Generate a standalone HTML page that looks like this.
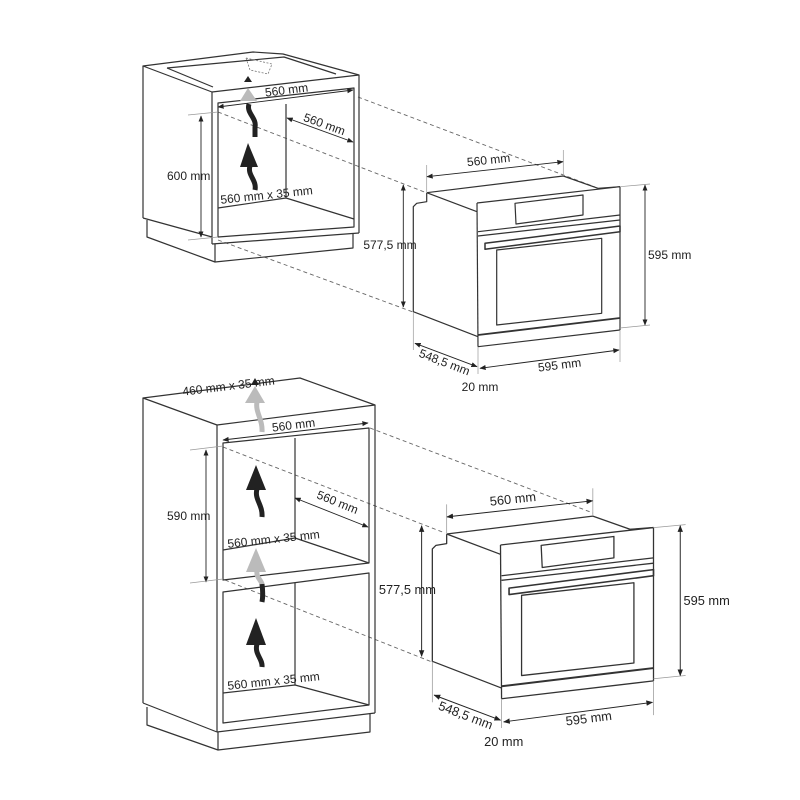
<!DOCTYPE html>
<html><head><meta charset="utf-8"><style>
html,body{margin:0;padding:0;background:#fff;}
svg{display:block;}
text{font-family:"Liberation Sans",sans-serif;font-size:12px;fill:#222;}
</style></head><body>
<svg width="800" height="800" viewBox="0 0 800 800" xmlns="http://www.w3.org/2000/svg">
<defs>
<marker id="a" viewBox="0 0 10 10" refX="9" refY="5" markerWidth="7" markerHeight="7" orient="auto-start-reverse"><path d="M0,1 L10,5 L0,9 z" fill="#222"/></marker>
</defs>

<g stroke="#666" stroke-width="0.9" stroke-dasharray="4,3" fill="none">
<line x1="358" y1="97" x2="595" y2="187"/>
<line x1="218" y1="112" x2="427" y2="193"/>
<line x1="218" y1="240" x2="413" y2="312"/>
<line x1="370" y1="428" x2="593" y2="513"/>
<line x1="223" y1="447" x2="445" y2="533"/>
<line x1="225" y1="580" x2="432" y2="662"/>
</g>

<g stroke="#333" stroke-width="1.2" fill="none" stroke-linejoin="round">
<polygon points="143,66 253,52 283,54 359,75 212,92" fill="#fff"/>
<polyline points="167,68 284,57 336,74"/>
<line x1="167" y1="68" x2="213" y2="87"/>
<line x1="143" y1="66" x2="143" y2="218"/>
<line x1="143" y1="218" x2="212" y2="237"/>
<line x1="212" y1="92" x2="212" y2="244"/>
<line x1="359" y1="75" x2="359" y2="233"/>
<line x1="212" y1="244" x2="359" y2="233"/>
<polyline points="147,220 147,237 215,262 353,248 353,233"/>
<line x1="215" y1="244" x2="215" y2="262"/>
<polygon points="218,103 354,88 354,227 218,237"/>
<line x1="286" y1="104" x2="286" y2="198"/>
<polyline points="218,208 286,198 354,219"/>
</g>
<g stroke="#777" stroke-width="0.8" stroke-dasharray="2,1.5" fill="none">
<polygon points="246,58 272,64 268,74 250,70"/>
</g>
<polygon points="248,76 244,82 252,82" fill="#222"/>
<polygon points="248,88 240,101 257,101" fill="#bbb"/>
<path d="M249,104 C246,113 257,118 255,127 L255,137" stroke="#222" stroke-width="5" fill="none"/>
<polygon points="248,143 240,167 258,167" fill="#222"/>
<path d="M250,166 C247,175 257,180 255,190" stroke="#222" stroke-width="5" fill="none"/>
<g stroke="#222" stroke-width="0.9" fill="none">
<line x1="218" y1="107" x2="353" y2="90" marker-start="url(#a)" marker-end="url(#a)"/>
<line x1="287" y1="118" x2="353" y2="142" marker-start="url(#a)" marker-end="url(#a)"/>
<line x1="201" y1="116" x2="201" y2="237" marker-start="url(#a)" marker-end="url(#a)"/>
</g>
<g stroke="#999" stroke-width="0.7"><line x1="188" y1="115" x2="218" y2="112"/><line x1="188" y1="240" x2="218" y2="237"/></g>
<text x="287" y="94" text-anchor="middle" transform="rotate(-7 287 94)">560 mm</text>
<text x="323" y="128" text-anchor="middle" transform="rotate(20 323 128)">560 mm</text>
<text x="167" y="180">600 mm</text>
<text x="267" y="199" text-anchor="middle" transform="rotate(-6 267 199)">560 mm x 35 mm</text>

<g stroke="#333" stroke-width="1.2" fill="none" stroke-linejoin="round">
<polygon points="143,398 300,378 375,405 217,425" fill="#fff"/>
<line x1="143" y1="398" x2="143" y2="703"/>
<line x1="143" y1="703" x2="217" y2="732"/>
<line x1="217" y1="425" x2="217" y2="732"/>
<line x1="375" y1="405" x2="375" y2="713"/>
<line x1="217" y1="732" x2="375" y2="713"/>
<polyline points="147,707 147,725 218,750 370,732 370,713"/>
<line x1="218" y1="732" x2="218" y2="750"/>
<polygon points="223,443 369,428 369,563 223,580"/>
<polygon points="223,592 369,573 369,705 223,723"/>
<line x1="295" y1="438" x2="295" y2="538"/>
<polyline points="223,550 295,538 369,563"/>
<line x1="295" y1="583" x2="295" y2="685"/>
<polyline points="223,693 295,685 369,705"/>
</g>
<polygon points="255,378 251,385 259,385" fill="#222"/>
<polygon points="255,386 245,403 265,403" fill="#bbb"/>
<path d="M257,402 C255,412 263,420 262,432" stroke="#bbb" stroke-width="5" fill="none"/>
<polygon points="256,465 246,490 266,490" fill="#222"/>
<path d="M257,489 C254,499 263,505 262,517" stroke="#222" stroke-width="5" fill="none"/>
<polygon points="256,548 246,572 266,572" fill="#bbb"/>
<path d="M257,571 C256,577 261,580 262,584" stroke="#bbb" stroke-width="5" fill="none"/>
<path d="M262,584 C263,592 263,597 262,602" stroke="#222" stroke-width="5" fill="none"/>
<polygon points="256,618 246,645 266,645" fill="#222"/>
<path d="M257,644 C254,654 263,659 262,667" stroke="#222" stroke-width="5" fill="none"/>
<g stroke="#222" stroke-width="0.9" fill="none">
<line x1="223" y1="440" x2="368" y2="423" marker-start="url(#a)" marker-end="url(#a)"/>
<line x1="295" y1="498" x2="368" y2="527" marker-start="url(#a)" marker-end="url(#a)"/>
<line x1="206" y1="450" x2="206" y2="582" marker-start="url(#a)" marker-end="url(#a)"/>
</g>
<g stroke="#999" stroke-width="0.7"><line x1="190" y1="450" x2="223" y2="446"/><line x1="190" y1="583" x2="223" y2="579"/></g>
<text x="294" y="429" text-anchor="middle" transform="rotate(-7 294 429)">560 mm</text>
<text x="336" y="506" text-anchor="middle" transform="rotate(22 336 506)">560 mm</text>
<text x="167" y="520">590 mm</text>
<text x="229" y="390" text-anchor="middle" transform="rotate(-7 229 390)">460 mm x 35 mm</text>
<text x="274" y="543" text-anchor="middle" transform="rotate(-6 274 543)">560 mm x 35 mm</text>
<text x="274" y="685" text-anchor="middle" transform="rotate(-6 274 685)">560 mm x 35 mm</text>

<g>
<g stroke="#333" stroke-width="1.2" fill="none" stroke-linejoin="round">
<polyline points="426.7,192.7 426.7,201.7 416.7,203.3 413.3,206.7 413.3,311.7 478,336.7"/>
<polyline points="426.7,192.7 563.3,176 598,188.3 620,186.7"/>
<line x1="426.7" y1="192.7" x2="477" y2="211.7"/>
<line x1="477" y1="203" x2="620" y2="186.7"/>
<line x1="477" y1="203" x2="478" y2="346.7"/>
<line x1="620" y1="186.7" x2="620" y2="330"/>
<line x1="478" y1="231.7" x2="620" y2="215"/>
<line x1="478" y1="236" x2="620" y2="220"/>
<polygon points="515,203.3 583,195 583,215 516,224"/>
<polygon points="485,243.3 620,226 620,231.7 485,249.3" stroke-width="1.5"/>
<polygon points="496.7,250 601.7,238.3 601.7,313.3 496.7,325"/>
<line x1="478" y1="335" x2="620" y2="318" stroke-width="1.8"/>
<line x1="478" y1="346.7" x2="620" y2="330"/>
</g>
<g stroke="#999" stroke-width="0.7" fill="none">
<line x1="426.7" y1="165" x2="426.7" y2="193"/>
<line x1="563.3" y1="150" x2="563.3" y2="176"/>
<line x1="620" y1="186.7" x2="650" y2="184"/>
<line x1="620" y1="328" x2="650" y2="325"/>
<line x1="413.3" y1="312" x2="413.3" y2="350"/>
<line x1="478" y1="347" x2="478" y2="374"/>
<line x1="620" y1="330" x2="620" y2="362"/>
</g>
<g stroke="#222" stroke-width="0.9" fill="none">
<line x1="427" y1="176.7" x2="563" y2="161.7" marker-start="url(#a)" marker-end="url(#a)"/>
<line x1="403.3" y1="185" x2="403.3" y2="307" marker-start="url(#a)" marker-end="url(#a)"/>
<line x1="645" y1="185" x2="645" y2="325" marker-start="url(#a)" marker-end="url(#a)"/>
<line x1="415" y1="343.3" x2="477" y2="366.7" marker-start="url(#a)" marker-end="url(#a)"/>
<line x1="480" y1="368.3" x2="619" y2="350" marker-start="url(#a)" marker-end="url(#a)"/>
</g>
<text x="489" y="164" text-anchor="middle" transform="rotate(-6 489 164)">560 mm</text>
<text x="390" y="249" text-anchor="middle">577,5 mm</text>
<text x="648" y="259">595 mm</text>
<text x="443" y="366" text-anchor="middle" transform="rotate(21 443 366)">548,5 mm</text>
<text x="560" y="369" text-anchor="middle" transform="rotate(-7 560 369)">595 mm</text>
<text x="480" y="391" text-anchor="middle">20 mm</text>
</g>
<g transform="translate(-9.9,327.8) scale(1.07)">
<g stroke="#333" stroke-width="1.2" fill="none" stroke-linejoin="round">
<polyline points="426.7,192.7 426.7,201.7 416.7,203.3 413.3,206.7 413.3,311.7 478,336.7"/>
<polyline points="426.7,192.7 563.3,176 598,188.3 620,186.7"/>
<line x1="426.7" y1="192.7" x2="477" y2="211.7"/>
<line x1="477" y1="203" x2="620" y2="186.7"/>
<line x1="477" y1="203" x2="478" y2="346.7"/>
<line x1="620" y1="186.7" x2="620" y2="330"/>
<line x1="478" y1="231.7" x2="620" y2="215"/>
<line x1="478" y1="236" x2="620" y2="220"/>
<polygon points="515,203.3 583,195 583,215 516,224"/>
<polygon points="485,243.3 620,226 620,231.7 485,249.3" stroke-width="1.5"/>
<polygon points="496.7,250 601.7,238.3 601.7,313.3 496.7,325"/>
<line x1="478" y1="335" x2="620" y2="318" stroke-width="1.8"/>
<line x1="478" y1="346.7" x2="620" y2="330"/>
</g>
<g stroke="#999" stroke-width="0.7" fill="none">
<line x1="426.7" y1="165" x2="426.7" y2="193"/>
<line x1="563.3" y1="150" x2="563.3" y2="176"/>
<line x1="620" y1="186.7" x2="650" y2="184"/>
<line x1="620" y1="328" x2="650" y2="325"/>
<line x1="413.3" y1="312" x2="413.3" y2="350"/>
<line x1="478" y1="347" x2="478" y2="374"/>
<line x1="620" y1="330" x2="620" y2="362"/>
</g>
<g stroke="#222" stroke-width="0.9" fill="none">
<line x1="427" y1="176.7" x2="563" y2="161.7" marker-start="url(#a)" marker-end="url(#a)"/>
<line x1="403.3" y1="185" x2="403.3" y2="307" marker-start="url(#a)" marker-end="url(#a)"/>
<line x1="645" y1="185" x2="645" y2="325" marker-start="url(#a)" marker-end="url(#a)"/>
<line x1="415" y1="343.3" x2="477" y2="366.7" marker-start="url(#a)" marker-end="url(#a)"/>
<line x1="480" y1="368.3" x2="619" y2="350" marker-start="url(#a)" marker-end="url(#a)"/>
</g>
<text x="489" y="164" text-anchor="middle" transform="rotate(-6 489 164)">560 mm</text>
<text x="390" y="249" text-anchor="middle">577,5 mm</text>
<text x="648" y="259">595 mm</text>
<text x="443" y="366" text-anchor="middle" transform="rotate(21 443 366)">548,5 mm</text>
<text x="560" y="369" text-anchor="middle" transform="rotate(-7 560 369)">595 mm</text>
<text x="480" y="391" text-anchor="middle">20 mm</text>
</g>
</svg>
</body></html>
